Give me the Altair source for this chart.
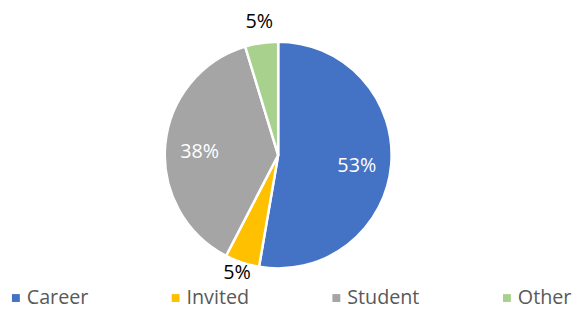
import altair as alt
import pandas as pd

categories = ["Career", "Invited", "Student", "Other"]
values = [52.7, 4.9, 37.7, 4.7]
colors = ["#4472C4", "#FFC000", "#A5A5A5", "#A9D18E"]

df = pd.DataFrame({
    "category": categories,
    "value": values,
    "order": list(range(len(categories))),
})
total = sum(values)

FONT = "Open Sans"
CX, CY = 274, 147
theta_scale = alt.Scale(domain=[0, total], range=[0, 6.283185307179586])

base = alt.Chart(df).transform_window(
    cum="sum(value)", sort=[alt.SortField("order")]
).transform_calculate(
    mid="datum.cum - datum.value / 2",
    label="round(datum.value) + '%'",
)

pie = base.mark_arc(outerRadius=115, stroke="white", strokeWidth=2.5).encode(
    theta=alt.Theta("value:Q", stack=True, scale=theta_scale),
    order=alt.Order("order:Q"),
    x=alt.value(CX), y=alt.value(CY),
    color=alt.Color(
        "category:N",
        scale=alt.Scale(domain=categories, range=colors),
        sort=categories,
        legend=alt.Legend(
            title=None,
            orient="none",
            direction="horizontal",
            columns=4,
            legendX=-2,
            legendY=282,
            padding=0,
            symbolType="square",
            symbolSize=64,
            symbolStrokeWidth=0,
            labelFont=FONT,
            labelFontSize=20,
            labelColor="#595959",
            labelOffset=1,
            columnPadding=78,
            gridAlign="none",
        ),
    ),
)

inside = base.transform_filter("datum.value > 10").mark_text(
    font=FONT, fontSize=20, color="white", radius=80, dy=4
).encode(
    theta=alt.Theta("mid:Q", scale=theta_scale),
    x=alt.value(CX), y=alt.value(CY),
    text="label:N",
)

outside = base.transform_filter("datum.value <= 10").mark_text(
    font=FONT, fontSize=20, color="black", radius=131, dy=-5
).encode(
    theta=alt.Theta("mid:Q", scale=theta_scale),
    x=alt.value(CX), y=alt.value(CY),
    text="label:N",
)

chart = (pie + inside + outside).properties(
    width=574, height=301,
    autosize=alt.AutoSizeParams(type="none"),
    padding=0,
).configure_view(stroke=None)

chart.save("out.html", embed_options={"renderer": "svg", "actions": False})
